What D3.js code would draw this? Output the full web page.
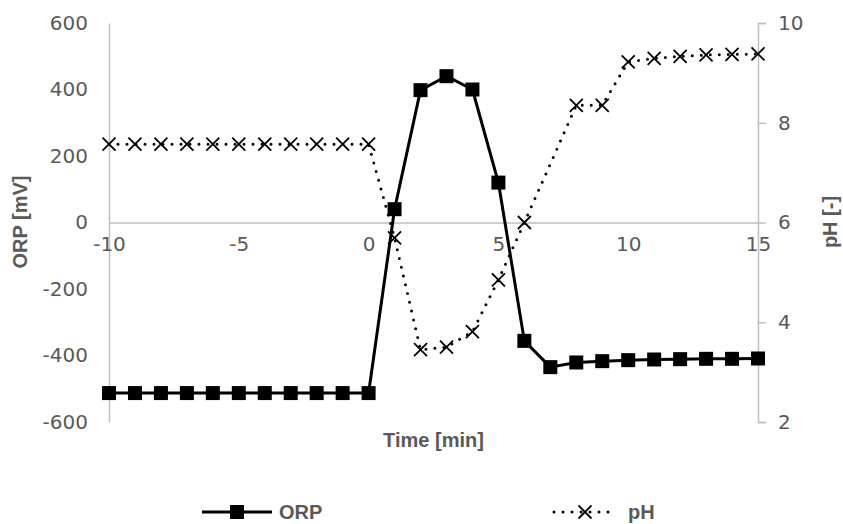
<!DOCTYPE html>
<html>
<head>
<meta charset="utf-8">
<script src="https://cdn.jsdelivr.net/npm/d3@7"></script>
<style>
  html, body { margin: 0; padding: 0; background: #fff; }
  svg { display: block; }
  .tick-label { font-family: "DejaVu Sans", sans-serif; font-size: 20px; fill: #595959; }
  .title { font-family: "Liberation Sans", Arial, sans-serif; font-size: 20px; font-weight: bold; fill: #595959; }
</style>
</head>
<body>
<svg id="chart" width="843" height="524"></svg>
<script>
// Time axis (minutes) and the two measured series
const orpTime = [-10, -9, -8, -7, -6, -5, -4, -3, -2, -1, 0, 1, 2, 3, 4, 5, 6, 7, 8, 9, 10, 11, 12, 13, 14, 15];
const orpValues = [-513, -513, -513, -513, -513, -513, -513, -513, -513, -513, -513,
  40, 398, 440, 400, 120, -356, -435, -421, -417, -414, -412, -411, -410, -410, -409];

const phTime = [-10, -9, -8, -7, -6, -5, -4, -3, -2, -1, 0, 1, 2, 3, 4, 5, 6, 8, 9, 10, 11, 12, 13, 14, 15];
const phValues = [7.57, 7.57, 7.57, 7.57, 7.57, 7.57, 7.57, 7.57, 7.57, 7.57, 7.57,
  5.69, 3.45, 3.5, 3.81, 4.85, 6.0, 8.35, 8.35, 9.22, 9.29, 9.33, 9.36, 9.37, 9.38];

const timeTicks = [-10, -5, 0, 5, 10, 15];
const orpTicks = [-600, -400, -200, 0, 200, 400, 600];
const phTicks = [2, 4, 6, 8, 10];

const svg = d3.select("#chart");
const axisColor = "#bfbfbf";
const plain = d => String(d); // ASCII hyphen for negatives

const x = d3.scaleLinear().domain([-10, 15]).range([109, 758]);
const yL = d3.scaleLinear().domain([-600, 600]).range([422, 23]);
const yR = d3.scaleLinear().domain([2, 10]).range([422, 23]);

function styleAxis(g) {
  g.select(".domain").attr("stroke", axisColor).attr("stroke-width", 1.5);
  g.selectAll(".tick line").attr("stroke", axisColor).attr("stroke-width", 1.5);
  g.selectAll("text").attr("class", "tick-label")
    .attr("font-size", null).attr("font-family", null).attr("fill", null);
}

// Left axis: line only, labels on the left
svg.append("g").attr("transform", `translate(${x(-10)},0)`)
  .call(d3.axisLeft(yL).tickValues(orpTicks).tickSize(0).tickPadding(21).tickFormat(plain))
  .call(styleAxis);

// Right axis: line with outward ticks
svg.append("g").attr("transform", `translate(${x(15)},0)`)
  .call(d3.axisRight(yR).tickValues(phTicks).tickSizeInner(8).tickSizeOuter(8).tickPadding(12).tickFormat(plain))
  .call(styleAxis);

// Time axis crosses at ORP = 0
svg.append("g").attr("transform", `translate(0,${yL(0)})`)
  .call(d3.axisBottom(x).tickValues(timeTicks).tickSize(0).tickPadding(14).tickFormat(plain))
  .call(styleAxis);

// Axis titles
svg.append("text").attr("class", "title")
  .attr("transform", `translate(27,222) rotate(-90)`).attr("text-anchor", "middle")
  .text("ORP [mV]");
svg.append("text").attr("class", "title")
  .attr("transform", `translate(837,222) rotate(-90)`).attr("text-anchor", "middle")
  .text("pH [-]");
svg.append("text").attr("class", "title")
  .attr("x", (x(-10) + x(15)) / 2).attr("y", 447).attr("text-anchor", "middle")
  .text("Time [min]");

// ORP series: solid line with square markers
const orpData = orpTime.map((t, i) => [t, orpValues[i]]);
svg.append("path").datum(orpData)
  .attr("fill", "none").attr("stroke", "#000").attr("stroke-width", 3)
  .attr("stroke-linejoin", "round")
  .attr("d", d3.line().x(d => x(d[0])).y(d => yL(d[1])));
const sq = 14;
svg.append("g").selectAll("rect").data(orpData).join("rect")
  .attr("x", d => x(d[0]) - sq / 2).attr("y", d => yL(d[1]) - sq / 2)
  .attr("width", sq).attr("height", sq).attr("fill", "#000");

// pH series: round-dotted line with cross markers
const phData = phTime.map((t, i) => [t, phValues[i]]);
svg.append("path").datum(phData)
  .attr("fill", "none").attr("stroke", "#000").attr("stroke-width", 3)
  .attr("stroke-linecap", "round").attr("stroke-dasharray", "0 9")
  .attr("d", d3.line().x(d => x(d[0])).y(d => yR(d[1])));
const cr = 6.5;
const crossPath = (cx, cy) => `M${cx - cr},${cy - cr}L${cx + cr},${cy + cr}M${cx - cr},${cy + cr}L${cx + cr},${cy - cr}`;
svg.append("g").selectAll("path").data(phData).join("path")
  .attr("d", d => crossPath(x(d[0]), yR(d[1])))
  .attr("stroke", "#000").attr("stroke-width", 1.8).attr("fill", "none");

// Legend
const legY = 512;
const leg = svg.append("g");
leg.append("line").attr("x1", 202).attr("x2", 272).attr("y1", legY).attr("y2", legY)
  .attr("stroke", "#000").attr("stroke-width", 3);
leg.append("rect").attr("x", 237 - sq / 2).attr("y", legY - sq / 2).attr("width", sq).attr("height", sq).attr("fill", "#000");
leg.append("text").attr("class", "title").attr("x", 279).attr("y", legY + 7).text("ORP");

leg.append("line").attr("x1", 554).attr("x2", 612).attr("y1", legY).attr("y2", legY)
  .attr("stroke", "#000").attr("stroke-width", 3)
  .attr("stroke-linecap", "round").attr("stroke-dasharray", "0 9");
leg.append("path").attr("d", crossPath(585, legY)).attr("stroke", "#000").attr("stroke-width", 1.8).attr("fill", "none");
leg.append("text").attr("class", "title").attr("x", 628).attr("y", legY + 7).text("pH");
</script>
</body>
</html>
